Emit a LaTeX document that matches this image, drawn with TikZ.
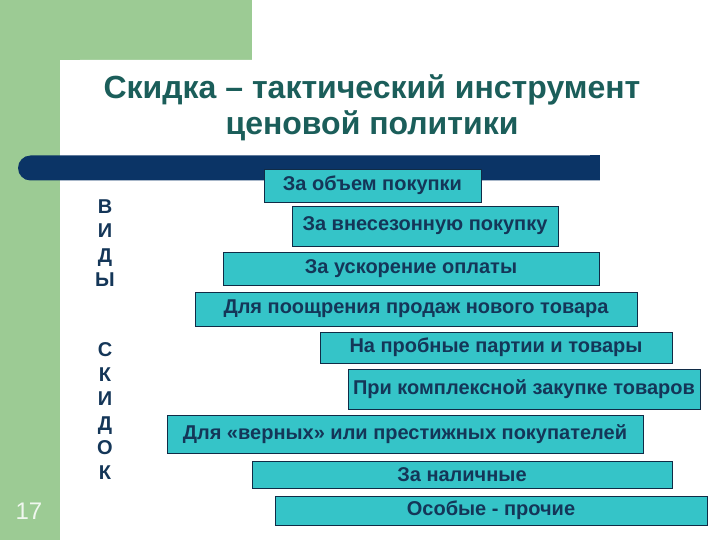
\documentclass[tikz,border=0pt]{standalone}
\usepackage{fontspec}
\setmainfont{Liberation Sans}
\definecolor{slidegreen}{HTML}{9CCB94}
\definecolor{barnavy}{HTML}{0B3466}
\definecolor{titleteal}{HTML}{1B5E5A}
\definecolor{boxfill}{HTML}{35C4C8}
\definecolor{boxtext}{HTML}{143658}
\tikzset{
  vidbox/.style={draw=boxtext!80!black, line width=0.8pt, fill=boxfill,
    text=boxtext, font=\fontsize{20}{22}\selectfont\bfseries,
    inner sep=0pt, anchor=center},
  letters/.style={text=boxtext, font=\fontsize{20}{24.5}\selectfont\bfseries,
    align=center}
}
\begin{document}
\begin{tikzpicture}[x=1pt,y=-1pt]
    \useasboundingbox (0,0) rectangle (720,540);
    \clip (0,0) rectangle (720,540);
    % background of the slide
    \fill[slidegreen] (0,0) rectangle (252,60);
    \fill[slidegreen] (0,0) rectangle (60,540);
    \fill[white, rounded corners=20pt] (60,600) -- (60,60) -- (800,60) -- (800,600) -- cycle;
    \node[text=white!85!slidegreen, font=\fontsize{24}{26}\selectfont] (page) at (29,511) {17};
    % title
    \node[text=titleteal, font=\fontsize{32}{36}\selectfont\bfseries, align=center] (title) at (372,108)
      {Скидка – тактический инструмент\\ценовой политики};
    \fill[barnavy, rounded corners=12.5pt] (18,155.5) rectangle (612,180.5);
    \fill[barnavy] (590,155.5) rectangle (600,180.5);
    \fill[white] (600,150) rectangle (620,185);
    % vertical words
    \node[letters] (vidy) at (105,243) {В\\И\\Д\\Ы};
    \node[letters] (skidok) at (105,411) {С\\К\\И\\Д\\О\\К};
    % kinds of discounts
    \foreach \n/\l/\t/\r/\b/\txt in {
        1/264/169/481/202/За объем покупки,
        2/292/206/558/246/За внесезонную покупку,
        3/223/252/599/285/За ускорение оплаты,
        4/195/292/637/326/Для поощрения продаж нового товара,
        5/320/332/672/363/На пробные партии и товары,
        6/348/369/700/409/При комплексной закупке товаров,
        7/167/415/643/453/Для «верных» или престижных покупателей,
        8/252/461/672/488/За наличные,
        9/275/496/707/525/Особые - прочие} {
        \node[vidbox, minimum width={\r-\l}, minimum height={\b-\t}]
          (kind\n) at ({(\l+\r)/2},{(\t+\b)/2}) {\txt};
      }
\end{tikzpicture}
\end{document}
